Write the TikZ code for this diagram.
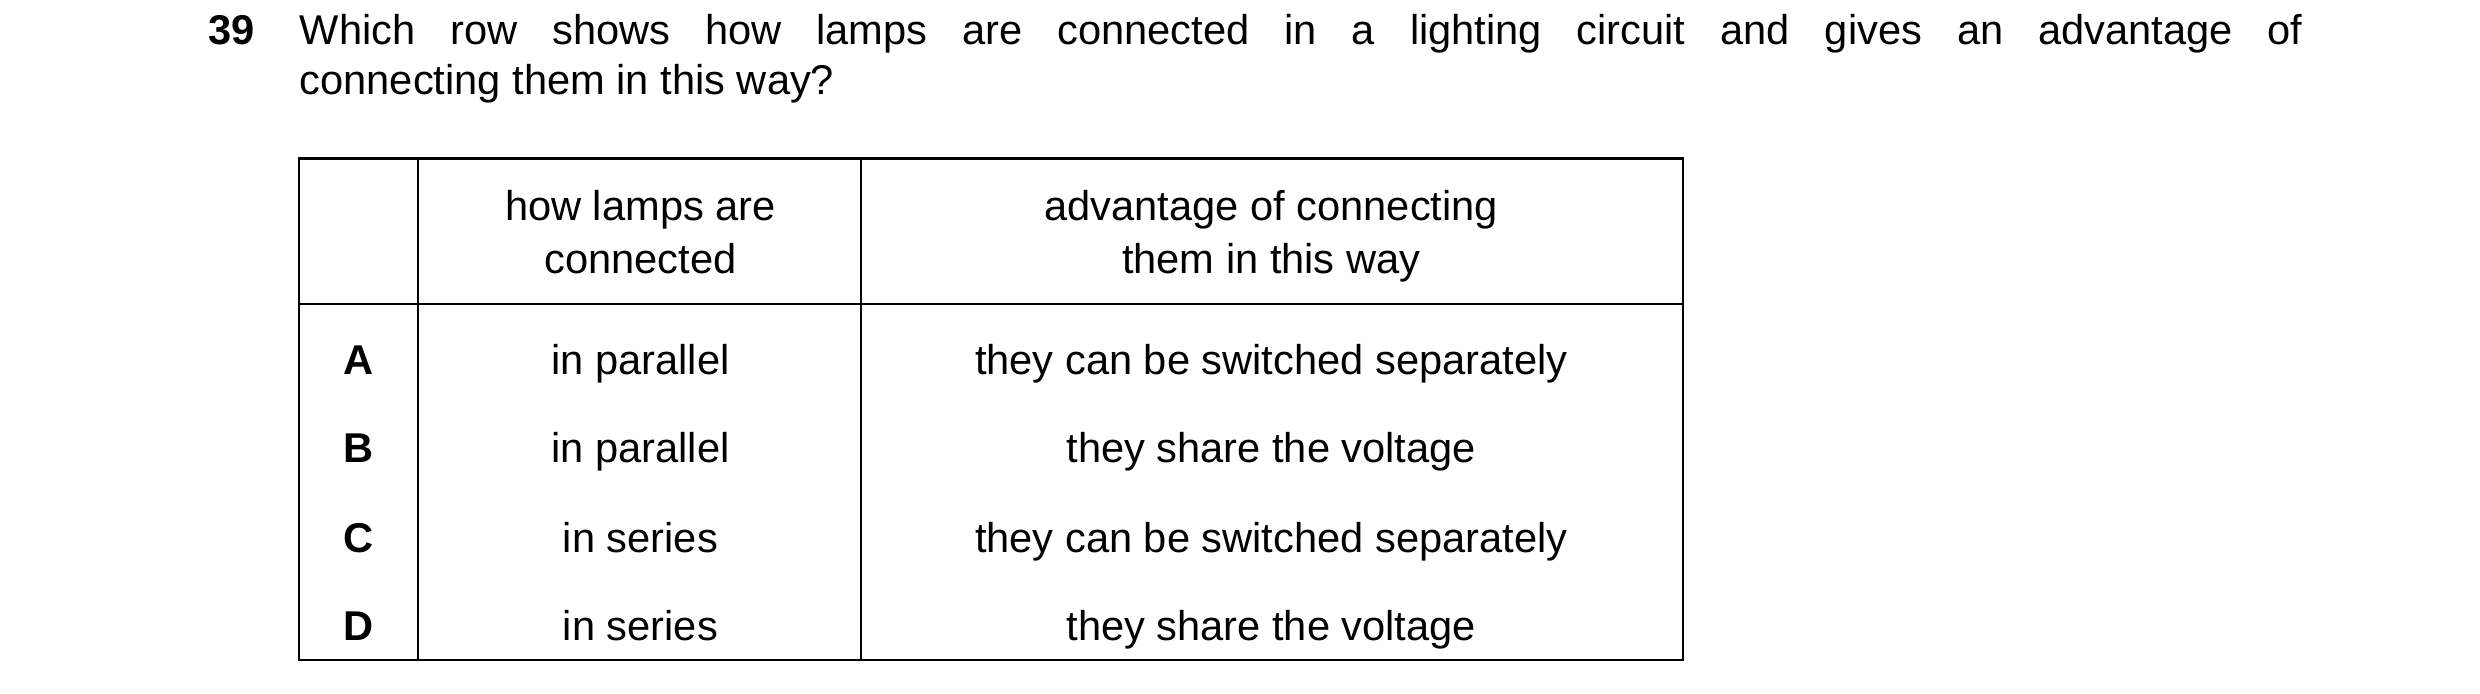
\documentclass[tikz,border=0pt]{standalone}
\usepackage{fontspec}
\setmainfont{Liberation Sans}
\begin{document}
\begin{tikzpicture}[x=1pt,y=1pt,
  txt/.style={inner sep=0pt,font=\fontsize{26}{32}\selectfont},
  cell/.style={txt,align=center,anchor=base},
  lbl/.style={txt,font=\fontsize{26}{32}\selectfont\bfseries,anchor=base}]
\useasboundingbox (0,0) rectangle (1549,-433);
\node[lbl,anchor=base west] (num) at (130,-28) {39};
\node[txt,anchor=base west] (l1) at (187,-28) {\makebox[1251pt][s]{Which row shows how lamps are connected in a lighting circuit and gives an advantage of}};
\node[txt,anchor=base west] (l2) at (187,-59) {connecting them in this way?};
\draw[line width=1.3pt] (187,-99) rectangle (1051,-412);
\draw[line width=1.3pt] (187,-190) -- (1051,-190);
\draw[line width=1.3pt] (261,-99) -- (261,-412);
\draw[line width=1.3pt] (538,-99) -- (538,-412);
\node[cell] (h2) at (400,-138) {how lamps are};
\node[cell] (h2b) at (400,-171) {connected};
\node[cell] (h3) at (794,-138) {advantage of connecting};
\node[cell] (h3b) at (794,-171) {them in this way};
\node[lbl] (a) at (224,-234) {A};
\node[lbl] (b) at (224,-289) {B};
\node[lbl] (c) at (224,-345) {C};
\node[lbl] (d) at (224,-400) {D};
\node[cell] (a2) at (400,-234) {in parallel};
\node[cell] (b2) at (400,-289) {in parallel};
\node[cell] (c2) at (400,-345) {in series};
\node[cell] (d2) at (400,-400) {in series};
\node[cell] (a3) at (794,-234) {they can be switched separately};
\node[cell] (b3) at (794,-289) {they share the voltage};
\node[cell] (c3) at (794,-345) {they can be switched separately};
\node[cell] (d3) at (794,-400) {they share the voltage};
\end{tikzpicture}
\end{document}
